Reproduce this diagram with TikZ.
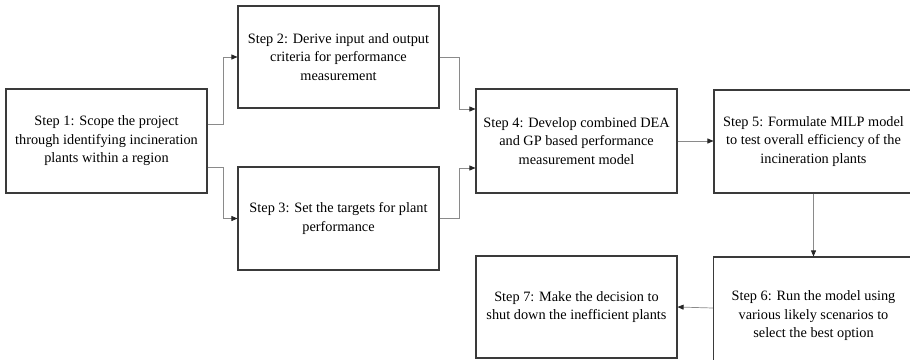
\documentclass[tikz,border=0pt]{standalone}
\usepackage{fontspec}
\setmainfont{Liberation Serif}
\usetikzlibrary{arrows.meta}
\definecolor{boxline}{HTML}{3A3A3A}
\definecolor{connline}{HTML}{8A8A8A}
\tikzset{
  stepbox/.style={draw=boxline, line width=1.1pt, rectangle, align=center,
    font=\fontsize{14.3}{18.5}\selectfont, inner sep=0pt, fill=white},
  conn/.style={draw=connline, line width=0.7pt,
    -{Triangle[length=6pt,width=5pt,color=black!85]}}
}
\begin{document}
\begin{tikzpicture}[x=1pt,y=-1pt]
\useasboundingbox (0,0) rectangle (910,359);
\node[stepbox, minimum width=201pt, minimum height=104pt] (b1) at (106.5,141)
  {Step 1: Scope the project\\through identifying incineration\\plants within a region};
\node[stepbox, minimum width=201pt, minimum height=102pt] (b2) at (338.5,57)
  {Step 2: Derive input and output\\criteria for performance\\measurement};
\node[stepbox, minimum width=201pt, minimum height=103pt] (b3) at (338.5,218.5)
  {Step 3: Set the targets for plant\\performance};
\node[stepbox, minimum width=201pt, minimum height=104pt] (b4) at (576.5,141)
  {Step 4: Develop combined DEA\\and GP based performance\\measurement model};
\node[stepbox, minimum width=199pt, minimum height=103pt] (b5) at (813.5,141.5)
  {Step 5: Formulate MILP model\\to test overall efficiency of the\\incineration plants};
\node[stepbox, minimum width=200pt, minimum height=118pt] (b6) at (813.5,316)
  {Step 6: Run the model using\\various likely scenarios to\\select the best option};
\node[stepbox, minimum width=201pt, minimum height=102pt] (b7) at (576.5,307)
  {Step 7: Make the decision to\\shut down the inefficient plants};

\draw[conn] ([yshift=17pt]b1.east) -- ++(16,0) |- (b2.west);
\draw[conn] ([yshift=-26pt]b1.east) -- ++(16,0) |- (b3.west);
\draw[conn] (b2.east) -- ++(20,0) |- ([yshift=32pt]b4.west);
\draw[conn] (b3.east) -- ++(20,0) |- ([yshift=-27pt]b4.west);
\draw[conn] (b4.east) -- (b4.east -| b5.west);
\draw[conn] (b5.south) -- (b5.south |- b6.north);
\draw[conn] ([yshift=8pt]b6.west) -- (b7.east);
\end{tikzpicture}
\end{document}
